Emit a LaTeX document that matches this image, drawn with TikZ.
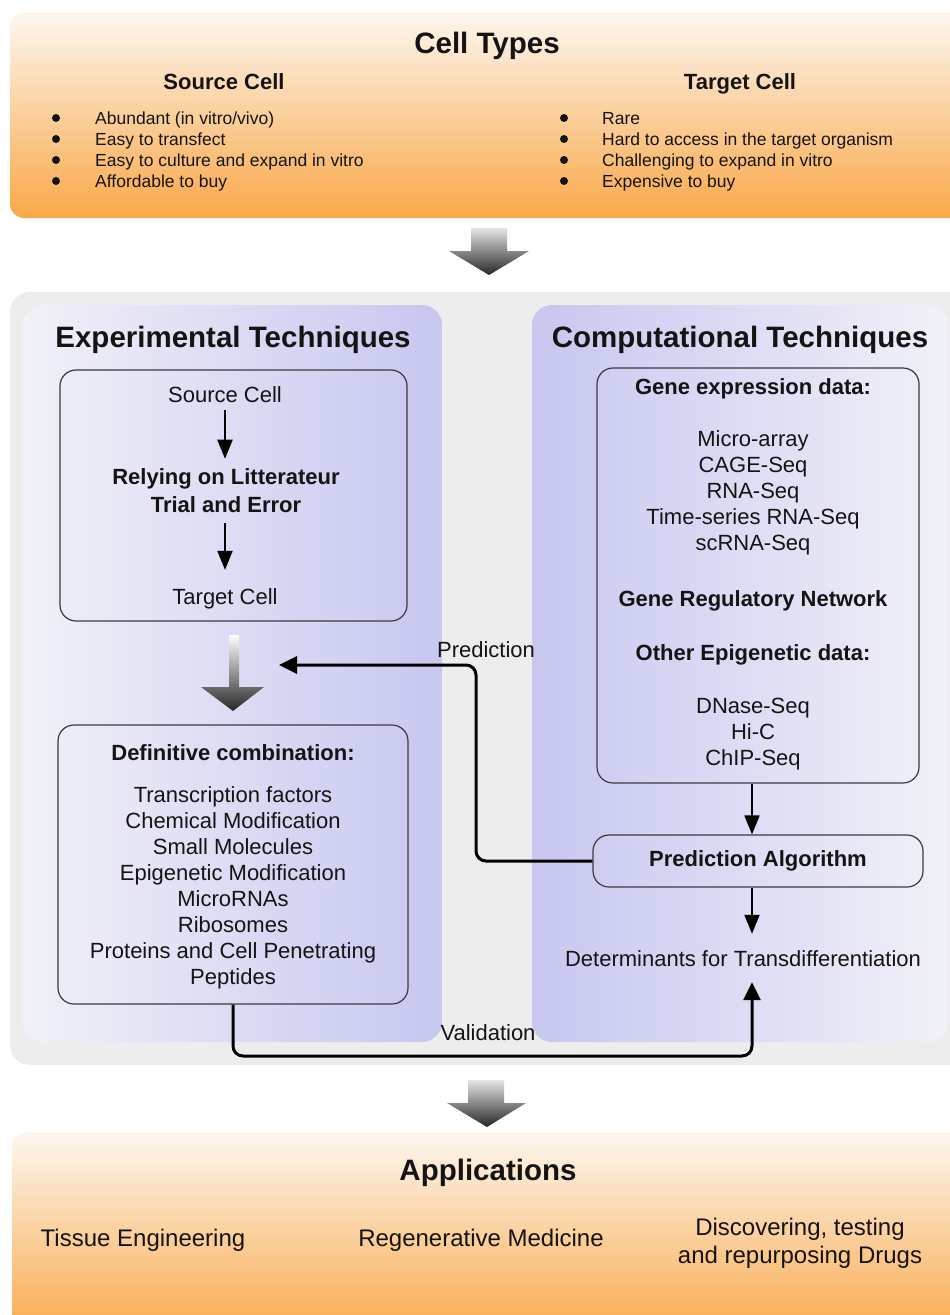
\documentclass[tikz,border=0pt]{standalone}
\usepackage{fontspec}
\setmainfont{Liberation Sans}
\usetikzlibrary{arrows.meta,calc}
\definecolor{txt}{HTML}{141414}
\definecolor{orangeD}{HTML}{F9A848}
\definecolor{orangeL}{HTML}{FDF7F0}
\definecolor{purD}{HTML}{C7C7F0}
\definecolor{purL}{HTML}{F1F1F9}
\definecolor{panelgray}{HTML}{EEEDED}
\definecolor{boxline}{HTML}{3A3A42}
\newcommand{\fsz}[2]{\fontsize{#1}{#2}\selectfont}
\begin{document}
\begin{tikzpicture}[x=1pt,y=-1pt,
  every node/.style={text=txt, inner sep=3pt},
  bigtitle/.style={font=\fsz{29.5}{34}\bfseries, anchor=base},
  subtitle/.style={font=\fsz{22}{26}\bfseries, anchor=base},
  bullettext/.style={font=\fsz{17.5}{21}, anchor=base west, inner sep=2pt},
  body/.style={font=\fsz{22}{26}, align=center},
  bodyb/.style={font=\fsz{22}{28}\bfseries, align=center},
  line/.style={font=\fsz{22}{26}, anchor=base},
  lineb/.style={font=\fsz{22}{26}\bfseries, anchor=base},
  apptext/.style={font=\fsz{24}{28}, align=center},
  ibox/.style={draw=boxline, line width=1.2pt, rounded corners=16pt, inner sep=0pt},
  arrS/.style={line width=2pt, draw=black, -{Triangle[width=15pt,length=19pt]}},
  arrL/.style={line width=3pt, draw=black, rounded corners=10pt, -{Triangle[width=17pt,length=18pt]}},
  dot/.style={fill=txt}
]
\useasboundingbox (0,0) rectangle (950,1315);

% ---------- top box ----------
\shade[top color=orangeL, bottom color=orangeD, rounded corners=14pt] (10,12) rectangle (975,218);
\node[bigtitle] (ct) at (487,53.5) {Cell Types};
\node[subtitle] (sc) at (224,89) {Source Cell};
\node[subtitle] (tc) at (740,89) {Target Cell};
\foreach \yy in {118,139,160,181}{
  \fill[dot] (56,\yy) circle[radius=4pt];
  \fill[dot] (564,\yy) circle[radius=4pt];
}
\node[bullettext] (s1) at (93,124.5) {Abundant (in vitro/vivo)};
\node[bullettext] (s2) at (93,145.5) {Easy to transfect};
\node[bullettext] (s3) at (93,166.5) {Easy to culture and expand in vitro};
\node[bullettext] (s4) at (93,187.5) {Affordable to buy};
\node[bullettext] (t1) at (600,124.5) {Rare};
\node[bullettext] (t2) at (600,145.5) {Hard to access in the target organism};
\node[bullettext] (t3) at (600,166.5) {Challenging to expand in vitro};
\node[bullettext] (t4) at (600,187.5) {Expensive to buy};

% big arrow 1
\shade[top color=black!10, bottom color=black!85]
  (471,228) -- (507,228) -- (507,251) -- (529,251) -- (489,275) -- (449,251) -- (471,251) -- cycle;

% ---------- middle panel ----------
\fill[panelgray, rounded corners=20pt] (10,292) rectangle (975,1065);
\shade[left color=purL, right color=purD, rounded corners=20pt] (23,305) rectangle (442,1042);
\shade[left color=purD, right color=purL, rounded corners=20pt] (532,305) rectangle (948,1042);

\node[bigtitle] (et) at (233,347.5) {Experimental Techniques};
\node[bigtitle] (cpt) at (740,347.5) {Computational Techniques};

% left inner box
\node[ibox, minimum width=347pt, minimum height=251pt] (lbox) at (233.5,495.5) {};
\node[line] (src) at (225,402) {Source Cell};
\node[bodyb] (rel) at (226,491) {Relying on Litterateur\\Trial and Error};
\node[line] (tgt) at (225,604) {Target Cell};
\draw[arrS, shorten <=5pt, shorten >=7pt] (src.south) -- (src.south |- rel.north);
\draw[arrS, shorten <=7pt, shorten >=15pt] (src.south |- rel.south) -- (src.south |- tgt.north);

% gradient arrow 2
\shade[top color=white, bottom color=black!85]
  (229,635) -- (239,635) -- (239,687) -- (264,687) -- (233,711) -- (201,687) -- (229,687) -- cycle;

% definitive combination box
\node[ibox, minimum width=350pt, minimum height=279pt] (def) at (233,864.5) {};
\node[lineb] (dch) at (233,760) {Definitive combination:};
\node[body] (dcl) at (233,888) {Transcription factors\\Chemical Modification\\Small Molecules\\Epigenetic Modification\\MicroRNAs\\Ribosomes\\Proteins and Cell Penetrating\\Peptides};

% right inner box
\node[ibox, minimum width=322pt, minimum height=415pt] (rbox) at (758,575.5) {};
\node[lineb] (ged) at (753,394) {Gene expression data:};
\node[body] (gel) at (753,493) {Micro-array\\CAGE-Seq\\RNA-Seq\\Time-series RNA-Seq\\scRNA-Seq};
\node[lineb] (grn) at (753,606) {Gene Regulatory Network};
\node[lineb] (oed) at (753,660) {Other Epigenetic data:};
\node[body] (epl) at (753,734) {DNase-Seq\\Hi-C\\ChIP-Seq};

% prediction algorithm
\node[ibox, minimum width=330pt, minimum height=52pt, font=\fsz{22}{26}\bfseries] (pa) at (758,861) {Prediction Algorithm};
\node[body, minimum height=46pt, inner sep=0pt] (det) at (743,959) {Determinants for Transdifferentiation};

\coordinate (ax) at (752,0);
\draw[arrS] (rbox.south -| ax) -- (pa.north -| ax);
\draw[arrS, shorten >=2pt] (pa.south -| ax) -- (det.north -| ax);

% prediction connector
\coordinate (pcorner) at (476,665);
\coordinate (ptip) at (279,665);
\draw[arrL] (pa.west) -| (pcorner) -- (ptip);
\node[line] (plabel) at (486,657) {Prediction};

% validation connector
\coordinate (vlow) at (752,1056);
\draw[arrL] (def.south) |- (vlow) -- (det.south -| ax);
\node[line] (vlabel) at (488,1040) {Validation};

% big arrow 3
\shade[top color=black!10, bottom color=black!85]
  (468,1080) -- (504,1080) -- (504,1103) -- (526,1103) -- (487,1127) -- (447,1103) -- (468,1103) -- cycle;

% ---------- bottom box ----------
\shade[top color=orangeL, bottom color=orangeD, rounded corners=14pt] (12,1132) rectangle (975,1340);
\node[bigtitle] (app) at (488,1180.5) {Applications};
\node[apptext, anchor=base] (a1) at (143,1246.5) {Tissue Engineering};
\node[apptext, anchor=base] (a2) at (481,1246.5) {Regenerative Medicine};
\node[apptext] (a3) at (800,1243) {Discovering, testing\\and repurposing Drugs};
\end{tikzpicture}
\end{document}
